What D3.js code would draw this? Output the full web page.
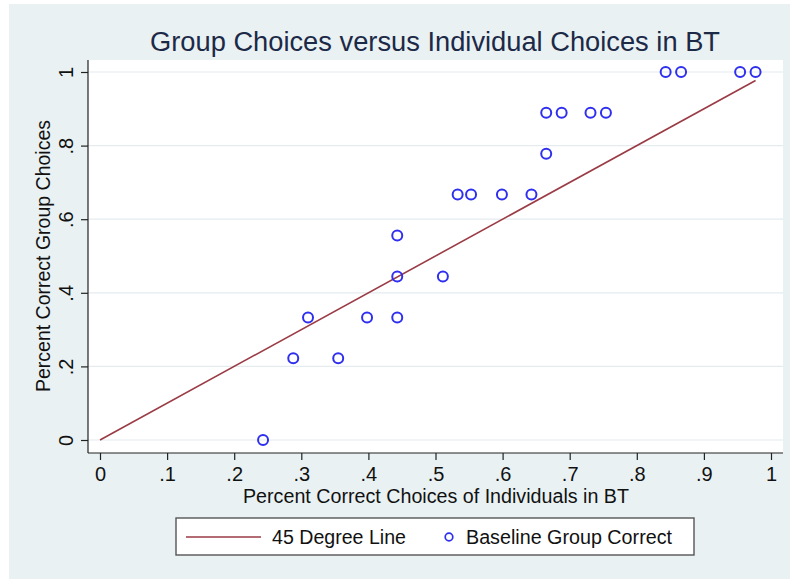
<!DOCTYPE html>
<html>
<head>
<meta charset="utf-8">
<script src="https://cdn.jsdelivr.net/npm/d3@7"></script>
<style>
  html, body { margin: 0; padding: 0; background: #ffffff; }
  svg { display: block; }
  text { font-family: "Liberation Sans", Arial, Helvetica, sans-serif; }
</style>
</head>
<body>
<svg id="chart" width="790" height="579"></svg>
<script>
// ---- Data ----
const individualCorrect = [0.243, 0.288, 0.310, 0.355, 0.398, 0.443, 0.443, 0.443, 0.511,
  0.533, 0.553, 0.599, 0.643, 0.665, 0.665, 0.688, 0.731, 0.754, 0.843, 0.866, 0.954, 0.977];
const groupCorrect = [0, 0.222, 0.333, 0.222, 0.333, 0.556, 0.444, 0.333, 0.444,
  0.667, 0.667, 0.667, 0.667, 0.778, 0.889, 0.889, 0.889, 0.889, 1, 1, 1, 1];
const lineEnds = [0, 0.977];
const xTicks = [0, 0.1, 0.2, 0.3, 0.4, 0.5, 0.6, 0.7, 0.8, 0.9, 1];
const yTicks = [0, 0.2, 0.4, 0.6, 0.8, 1];
const titleText = "Group Choices versus Individual Choices in BT";
const xTitle = "Percent Correct Choices of Individuals in BT";
const yTitle = "Percent Correct Group Choices";
const legendLabels = ["45 Degree Line", "Baseline Group Correct"];

const fmt = v => v === 0 ? "0" : (v === 1 ? "1" : String(+v.toFixed(1)).replace(/^0/, ""));

const svg = d3.select("#chart");
const bg = "#e9f1f3";
const lineColor = "#9a3b45";
const ptColor = "#2f2ff0";
const FF = "'Liberation Sans', Arial, sans-serif";

// Background
svg.append("rect").attr("x", 9).attr("y", 4).attr("width", 781).attr("height", 575).attr("fill", bg);

// Plot area
const plot = { left: 88, right: 783, top: 60, bottom: 453 };
svg.append("rect").attr("x", plot.left).attr("y", plot.top)
  .attr("width", plot.right - plot.left).attr("height", plot.bottom - plot.top).attr("fill", "#ffffff");

const x = d3.scaleLinear().domain([0, 1]).range([100, 771]);
const y = d3.scaleLinear().domain([0, 1]).range([440, 72]);

// Gridlines
svg.append("g").selectAll("line").data(yTicks).join("line")
  .attr("x1", plot.left).attr("x2", plot.right)
  .attr("y1", d => y(d)).attr("y2", d => y(d))
  .attr("stroke", "#e4ecef").attr("stroke-width", 1.2);

// Axes
const xAxis = d3.axisBottom(x).tickValues(xTicks).tickFormat(fmt).tickSize(7).tickPadding(7);
const gx = svg.append("g").attr("transform", `translate(0,${plot.bottom})`).call(xAxis);
gx.select(".domain").attr("d", `M${plot.left},0H${plot.right}`).attr("stroke", "#222").attr("stroke-width", 1.2);
gx.selectAll(".tick line").attr("stroke", "#222").attr("stroke-width", 1.2);
gx.selectAll(".tick text").attr("font-size", 20).attr("fill", "#111").attr("font-family", FF);

const yAxis = d3.axisLeft(y).tickValues(yTicks).tickFormat(fmt).tickSize(7).tickPadding(6);
const gy = svg.append("g").attr("transform", `translate(${plot.left},0)`).call(yAxis);
gy.select(".domain").attr("d", `M0,${plot.top}V${plot.bottom}`).attr("stroke", "#222").attr("stroke-width", 1.2);
gy.selectAll(".tick line").attr("stroke", "#222").attr("stroke-width", 1.2);
gy.selectAll(".tick text")
  .attr("font-size", 20).attr("fill", "#111").attr("font-family", FF)
  .attr("x", null).attr("dy", "0")
  .attr("text-anchor", "middle")
  .attr("transform", "translate(-15,0) rotate(-90)");

// 45 degree line
svg.append("line")
  .attr("x1", x(lineEnds[0])).attr("y1", y(lineEnds[0]))
  .attr("x2", x(lineEnds[1])).attr("y2", y(lineEnds[1]))
  .attr("stroke", lineColor).attr("stroke-width", 1.6);

// Points
svg.append("g").selectAll("circle").data(individualCorrect.map((v, i) => [v, groupCorrect[i]])).join("circle")
  .attr("cx", d => x(d[0])).attr("cy", d => y(d[1])).attr("r", 5)
  .attr("fill", "none").attr("stroke", ptColor).attr("stroke-width", 2);

// Titles
svg.append("text").attr("x", 435).attr("y", 51).attr("text-anchor", "middle")
  .attr("font-size", 27).attr("fill", "#1c2947")
  .attr("textLength", 570).attr("lengthAdjust", "spacingAndGlyphs").text(titleText);
svg.append("text").attr("x", 436).attr("y", 503).attr("text-anchor", "middle")
  .attr("font-size", 20).attr("fill", "#111")
  .attr("textLength", 386).attr("lengthAdjust", "spacingAndGlyphs").text(xTitle);
svg.append("text").attr("transform", "translate(50,256) rotate(-90)").attr("text-anchor", "middle")
  .attr("font-size", 20).attr("fill", "#111")
  .attr("textLength", 272).attr("lengthAdjust", "spacingAndGlyphs").text(yTitle);

// Legend
const lg = svg.append("g");
lg.append("rect").attr("x", 176).attr("y", 518).attr("width", 518).attr("height", 37)
  .attr("fill", "#ffffff").attr("stroke", "#555").attr("stroke-width", 1.4);
lg.append("line").attr("x1", 186).attr("x2", 261).attr("y1", 537).attr("y2", 537)
  .attr("stroke", lineColor).attr("stroke-width", 1.6);
lg.append("text").attr("x", 272).attr("y", 544).attr("font-size", 20).attr("fill", "#111")
  .attr("textLength", 134).attr("lengthAdjust", "spacingAndGlyphs").text(legendLabels[0]);
lg.append("circle").attr("cx", 449).attr("cy", 537).attr("r", 3.8)
  .attr("fill", "none").attr("stroke", ptColor).attr("stroke-width", 1.7);
lg.append("text").attr("x", 466).attr("y", 544).attr("font-size", 20).attr("fill", "#111")
  .attr("textLength", 206).attr("lengthAdjust", "spacingAndGlyphs").text(legendLabels[1]);
</script>
</body>
</html>
